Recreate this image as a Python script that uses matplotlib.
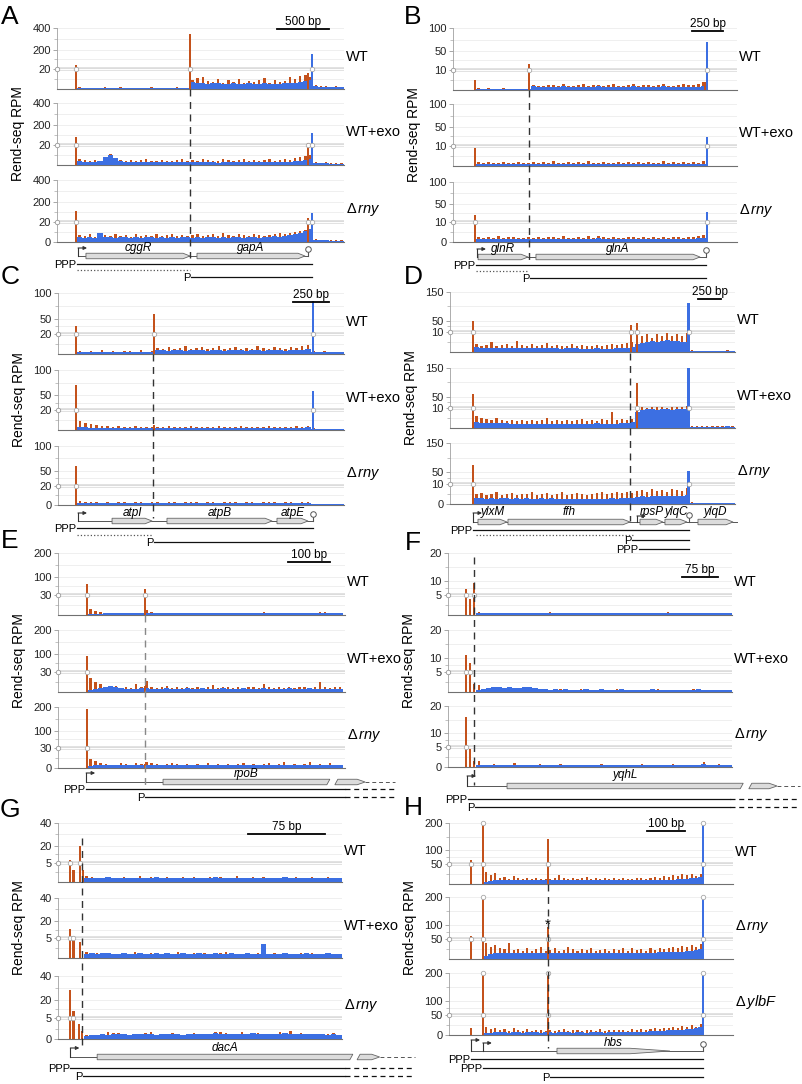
import numpy as np
import matplotlib.pyplot as plt
from matplotlib.patches import Polygon

plt.rcParams['font.family'] = ['Liberation Sans', 'DejaVu Sans']
plt.rcParams['mathtext.fontset'] = 'custom'
plt.rcParams['mathtext.rm'] = 'Liberation Sans'
plt.rcParams['mathtext.it'] = 'Liberation Sans:italic'

ORANGE = '#C4521C'
BLUE = '#3C6FE2'
W, H = 802, 1084

STRAINS = ['WT', 'WT+exo', r'$\Delta\,\mathit{rny}$']
STRAINS_H = ['WT', r'$\Delta\,\mathit{rny}$', r'$\Delta\,\mathit{ylbF}$']

# ---------------- A : cggR / gapA  (x in bp, y in RPM) ----------------
A_COV = (192, 2755)
A_WT_BLUE = [1,1,1,1,1,1,1,1,1,1,1,1,1,1,1,1,1,1,1,1,1,1,
             7,6,6,5,6,6,5,5,6,5,5,6,5,5,6,5,5,5,6,6,6,7,8,9,
             3,2,2,2,2,2]
A_WT_ORANGE = [2,1,1,1,1,2,1,1,2,1,1,1,1,1,2,1,1,1,1,2,1,1,
               9,11,12,8,7,10,6,9,7,10,6,8,7,9,11,6,9,7,8,12,10,13,14,12,
               4,3,3,2,3,2]
A_WT_PEAKS = [(182, 60, 'o'), (1277, 340, 'o'), (2410, 16, 'o'), (2448, 160, 'b')]
A_EXO_BLUE = [4,3,3,3,4,8,10,7,4,3,3,3,3,3,3,3,3,3,3,3,3,3,
              3,3,3,3,3,2,3,3,3,3,3,3,3,3,3,3,3,3,3,3,4,4,5,6,
              2,2,2,1,1,1]
A_EXO_ORANGE = [6,5,4,5,4,6,11,6,5,4,5,4,5,6,4,4,5,4,4,5,6,4,
                5,4,6,5,4,4,6,5,4,5,6,4,5,4,5,6,4,5,6,5,7,8,9,10,
                3,2,3,2,2,2]
A_EXO_PEAKS = [(182, 90, 'o'), (2410, 35, 'o'), (2448, 130, 'b')]
A_RNY_BLUE = [5,4,5,4,9,5,5,4,5,5,4,5,4,5,5,4,5,4,5,4,5,5,
              4,5,4,5,5,4,5,4,5,5,4,5,5,4,5,5,6,5,6,7,8,9,11,13,
              2,2,2,1,1,1]
A_RNY_ORANGE = [7,6,8,5,6,7,6,8,6,7,5,8,6,7,6,8,6,7,8,6,7,6,
                7,8,6,7,8,6,9,7,6,8,7,6,8,7,6,7,8,9,8,9,10,11,12,13,
                3,2,2,2,2,2]
A_RNY_PEAKS = [(182, 120, 'o'), (2410, 50, 'o'), (2448, 97, 'b')]
A_GENES = [('cggR', 278, 1277), ('gapA', 1344, 2381)]
A_PROMOTERS = [202]
A_TERMINATORS = [2410]
A_TRANSCRIPTS = [('PPP', 192, 2448, None, '-'), ('', 192, 1277, None, ':'), ('P', 1290, 2448, None, '-')]

# ---------------- B : glnR / glnA ----------------
B_COV = (186, 2049)
B_WT_BLUE = [0.6,0.5,0.5,0.6,0.5,0.5,0.6,0.5,0.5,0.5,0.6,
             1.8,1.6,1.5,1.7,1.6,1.5,1.8,1.6,1.5,1.6,1.7,1.5,1.6,1.8,1.6,1.5,1.7,1.6,1.5,1.6,
             1.8,1.5,1.6,1.7,1.5,1.6,1.8,1.6,1.5,1.6,1.7,1.5,1.6,1.7,1.9]
B_WT_ORANGE = [1,0.5,0.8,0.6,0.5,1.2,0.5,0.6,0.5,0.7,0.6,
               2.5,2,1.8,2.6,2.2,1.9,2.8,2,1.8,2.4,2.9,1.9,2.2,2.6,2,2.3,2.7,2,1.9,2.5,
               3,2,2.2,2.6,1.9,2.4,2.8,2.1,2,2.3,2.9,2.2,2.4,3,4]
B_WT_PEAKS = [(178, 4.7, 'o'), (616, 22, 'o'), (2040, 4, 'o'), (2057, 69, 'b')]
B_EXO_BLUE = [1.0,0.9,1.1,1.0,0.9,1.0,1.1,1.0,0.9,1.0,1.1,1.0,0.9,1.0,1.1,1.0,1.0,0.9,1.1,1.0,
              1.0,1.1,0.9,1.0,1.0,1.1,1.0,0.9,1.0,1.1,1.0,0.9,1.0,1.1,1.0,1.0,0.9,1.1,1.0,1.0,
              1.1,1.0,0.9,1.0,1.1,1.2]
B_EXO_ORANGE = [1.8,1.5,2,1.6,1.4,1.9,1.5,1.7,2.1,1.5,1.6,2,1.5,1.8,1.6,2.2,1.5,1.7,1.9,1.5,
                1.8,1.6,2.3,1.5,1.7,2,1.6,1.5,1.9,1.7,2.1,1.5,1.8,1.6,2,1.5,1.7,2.2,1.6,1.8,
                1.5,1.9,1.7,2,1.6,2.4]
B_EXO_PEAKS = [(178, 9, 'o'), (2057, 28, 'b')]
B_RNY_BLUE = [1.6,1.4,1.5,1.3,1.5,1.4,1.6,1.5,1.4,1.5,1.6,1.5,1.4,1.5,1.6,1.4,1.5,1.7,1.5,1.4,
              1.5,1.6,1.4,1.5,1.8,1.5,1.4,1.6,1.5,1.4,1.5,1.6,1.5,1.4,1.5,1.6,1.4,1.5,1.5,1.6,
              1.4,1.5,1.6,1.5,1.8,2.2]
B_RNY_ORANGE = [2.6,2.2,2.4,2,2.8,2.1,2.3,2.5,2,2.2,2.4,2.1,2.6,2,2.3,2.5,2.1,2.8,2.2,2,
                2.4,2.2,2.9,2.1,3.2,2.3,2,2.5,2.2,2.1,2.4,2.6,2.1,2.3,2,2.5,2.2,2.4,2.1,2.6,
                2.3,2.1,2.5,2.3,2.8,3.5]
B_RNY_PEAKS = [(178, 25, 'o'), (2057, 33, 'b')]
B_GENES = [('glnR', 203, 608), ('glnA', 672, 2001)]
B_PROMOTERS = [194]
B_TERMINATORS = [2049]
B_TRANSCRIPTS = [('PPP', 186, 2049, None, '-'), ('', 186, 608, None, ':'), ('P', 624, 2049, None, '-')]

# ---------------- C : atpI / atpB / atpE ----------------
C_COV = (131, 1973)
C_WT_BLUE = [2,2,2,2,2,2,2,2,2,2,2,2,2,2,
             4,4,3,4,4,3,4,4,4,3,4,4,3,4,4,4,3,4,4,3,4,4,4,3,4,4,4,5,
             2,1.5,1.5,1.5,1.5,1.5]
C_WT_ORANGE = [3,2,3,2,4,2,3,2,3,3,2,4,2,3,
               6,5,7,5,6,8,5,6,7,5,6,8,5,6,7,5,6,5,8,6,5,7,6,5,7,6,8,9,
               3,2,3,2,2,2]
C_WT_PEAKS = [(124, 36, 'o'), (662, 58, 'o'), (1760, 84, 'b')]
C_EXO_BLUE = [3,3,2,2,2,2,2,2,2,2,2,2,2,2,
              2,2,2,2,2,2,2,2,2,2,2,2,2,2,2,2,2,2,2,2,2,2,2,2,2,2,2,3,
              1,1,1,1,1,1]
C_EXO_ORANGE = [9,7,6,5,4,4,3,4,3,3,4,3,3,3,
                3,3,4,3,3,3,4,3,3,3,3,4,3,3,3,4,3,3,3,3,4,3,3,3,3,4,3,4,
                2,1.5,1.5,1.5,1.5,1.5]
C_EXO_PEAKS = [(124, 70, 'o'), (662, 5, 'o'), (1760, 58, 'b')]
C_RNY_BLUE = [2,2,2,2,2,2,2,2,2,2,2,2,2,2,
              2,2,2,2,2,2,2,2,2,2,2,2,2,2,2,2,2,2,2,2,2,2,2,2,2,2,2,2,
              1,1,1,1,1,1]
C_RNY_ORANGE = [4,3,3,3,2.5,3,2.5,3,3,2.5,3,3,2.5,3,
                3,2.5,3,3,2.5,3,3,3,2.5,3,3,2.5,3,3,3,2.5,3,3,2.5,3,3,3,2.5,3,3,2.5,3,3,
                1.5,1.5,1.5,1.5,1.5,1.5]
C_RNY_PEAKS = [(124, 60, 'o')]
C_GENES = [('atpI', 373, 649), ('atpB', 752, 1477), ('atpE', 1511, 1725)]
C_PROMOTERS = [138]
C_TERMINATORS = [1760]
C_TRANSCRIPTS = [('PPP', 131, 1760, None, '-'), ('', 131, 649, None, ':'), ('P', 662, 1760, None, '-')]

# ---------------- D : ylxM / ffh / rpsP / ylqC / ylqD ----------------
D_COV = (262, 3106)
D_WT_BLUE = [2.5,2,2,2.2,2,1.8,2,2.2,2,1.8,2,2,1.8,2,2.2,2,1.8,1.6,1.8,2,
             1.8,1.6,1.5,1.6,1.8,1.6,1.5,1.6,1.8,2,2.2,2.5,
             4,4.5,5,5.5,5,5.5,6,5.5,5.5,5,5,
             0.5,0.4,0.4,0.5,0.4,0.4,0.4,0.5,0.4]
D_WT_ORANGE = [4,3,3.5,5,3,3.5,4,3,5.5,3.5,3,4,3,3.5,4.5,3,3.5,3,3,4,
               3,3.5,3,3,3.5,3,3.5,4,3.5,4,4.5,5,
               7,8,9,7,9,8,9.5,8,9,8,9.5,
               0.8,0.6,0.7,0.6,0.7,0.6,0.6,0.8,0.6]
D_WT_PEAKS = [(250, 50, 'o'), (1971, 34, 'o'), (2037, 41, 'o'), (2600, 112, 'b')]
D_EXO_BLUE = [3,2.5,2.5,2.5,2.5,2.5,2.5,2.2,2,2,2.2,2,2,2.2,2,2,2,2.2,2,2,
              2.2,2,2,2.2,2.5,2.2,2,2,2.2,2.5,2.5,2.8,
              8,9,9.5,9.5,9,9.5,9.5,9,9.5,9.5,9.8,
              0.7,0.6,0.6,0.5,0.6,0.6,0.7,0.8,0.7]
D_EXO_ORANGE = [6,5,4.5,4,5,4,3.5,4,3.5,4,3.5,4,3.5,4,5,3.5,4,3.5,4,3.5,
                4,4.5,3.5,4,3.5,4.5,4,8,4,4.5,4,4.5,
                13,14,12,15,13,14,12,15,13,14,16,
                1,0.9,0.8,0.8,0.9,0.8,0.9,1,0.9]
D_EXO_PEAKS = [(250, 59, 'o'), (2037, 97, 'o'), (2600, 150, 'b')]
D_RNY_BLUE = [3,2.8,2.6,2.8,2.6,2.8,3,2.6,2.8,2.6,2.8,2.6,2.5,2.8,2.6,2.8,2.5,2.6,2.4,2.6,
              2.4,2.5,2.6,2.4,2.5,2.6,2.5,2.8,2.6,2.8,3,3,
              3.5,3.8,3.6,3.8,4,3.8,4,3.8,4,4.2,4.5,
              0.5,0.5,0.4,0.5,0.4,0.4,0.5,0.4,0.4]
D_RNY_ORANGE = [5,5.5,4.5,5,6,4.5,5,5.5,4.5,5,5,6,4.5,5,5.5,4.5,5,6,4.5,5,
                5.5,5,4.5,5,5.5,6,5,5.5,6,5.5,6,5.5,
                6.5,7,6,7.5,6.5,7,6,7.5,7,6.5,8,
                0.8,0.7,0.6,0.7,0.6,0.6,0.7,0.6,0.6]
D_RNY_PEAKS = [(250, 75, 'o'), (2600, 54, 'b')]
D_GENES = [('ylxM', 305, 621), ('ffh', 632, 1962), ('rpsP', 2071, 2322),
           ('ylqC', 2343, 2583), ('ylqD', 2703, 3085)]
D_PROMOTERS = [251, 2038]
D_TERMINATORS = [2605]
D_TRANSCRIPTS = [('PPP', 251, 2605, None, '-'), ('', 283, 2010, None, ':'),
                 ('P', 1984, 2605, None, '-'), ('PPP', 2060, 2605, None, '-')]

# ---------------- E : rpoB ----------------
E_COV = (71, 678)
E_WT_BLUE = [1,1.5,2,2.5,2.5,2.5,2.5,2.5,2.5,2.5,2.5,3,3.5,3.5,3,3,2.5,2.5,2.5,2.5,
             2.5,2.5,2.5,2.5,2.5,2.5,2.5,2.5,2.5,2.5,2.5,2.5,2.5,2.5,2.5,2.5,2.5,2.5,2.5,2.5,
             2.5,2.5,2.5,2.5,2.5,2.5,2.5,2.5,2.5,2.5]
E_WT_ORANGE = [9,6,4,2,2,2,2.5,2,2,3,2,8,4,2,2,2.5,3,2,2,2.5,
               2,2,2.5,3,2,2,3.5,3,2.5,2,2,2.5,2,3,4,3.5,2,2,2.5,2,
               2,2,2.5,2,2,4,4,3,3.5,2]
E_WT_PEAKS = [(69, 74, 'o'), (207, 52, 'o')]
E_EXO_BLUE = [3,5,6,8,9,8,6,5,5,5,6,6,5,5,5,6,5,5,5,6,
              5,5,6,5,5,5,6,5,5,5,6,5,5,5,6,5,5,5,5,6,
              5,5,5,6,5,5,5,5,5,5]
E_EXO_ORANGE = [20,15,12,8,6,9,6,7,6,12,7,16,8,6,7,9,6,8,6,7,
                6,8,6,7,10,6,7,8,6,7,6,8,7,6,12,7,6,8,6,7,
                6,7,8,6,7,14,7,6,8,7]
E_EXO_PEAKS = [(69, 93, 'o'), (207, 9, 'o')]
E_RNY_BLUE = [3,4,5,5,5,4,4,4,4,4,5,5,5,5,5,4,4,4,4,4,
              4,4,4,4,4,4,4,4,4,4,4,4,4,4,4,4,4,4,4,4,
              4,4,4,4,4,4,4,4,4,4]
E_RNY_ORANGE = [14,10,8,6,5,5,8,6,5,8,6,9,7,6,5,6,7,6,5,6,
                5,6,5,7,5,6,5,6,5,6,7,5,6,5,6,7,5,6,9,5,
                6,5,6,9,5,6,5,7,5,5]
E_RNY_PEAKS = [(69, 192, 'o'), (207, 6, 'o')]
E_GENES = [('rpoB', 250, 647, 666, 731)]
E_PROMOTERS = [67]
E_TERMINATORS = []
E_TRANSCRIPTS = [('PPP', 67, 683, 802, '-'), ('P', 207, 683, 802, '-')]

# ---------------- F : yqhL ----------------
F_COV = (59, 596)
F_WT_BLUE = [0.4,0.5,0.4,0.5,0.5,0.4,0.5,0.6,0.5,0.4,0.5,0.4,0.5,0.5,0.4,0.5,0.4,0.5,0.4,0.5,
             0.4,0.5,0.5,0.4,0.5,0.4,0.5,0.4,0.5,0.5,0.4,0.5,0.4,0.5,0.4,0.5,0.5,0.4,0.5,0.4,
             0.5,0.4,0.5,0.4,0.5,0.5,0.4,0.5,0.4,0.5]
F_WT_ORANGE = [0.8,0.5,0.3,0.6,0.3,0.4,0.3,0.5,0.3,0.4,0.6,0.3,0.4,0.3,0.7,0.3,0.4,0.3,0.5,0.3,
               0.4,0.3,0.6,0.3,0.4,0.3,0.5,0.3,0.4,0.3,0.6,0.3,0.4,0.3,0.5,0.3,0.4,0.7,0.3,0.4,
               0.3,0.5,0.3,0.4,0.3,0.6,0.3,0.4,0.3,0.5]
F_WT_PEAKS = [(38, 7, 'o'), (46, 4, 'o'), (55, 9, 'o')]
F_EXO_BLUE = [0.6,0.8,1.0,1.2,1.1,1.0,1.2,0.9,1.0,1.1,1.2,1.0,0.8,0.7,0.6,0.7,0.6,0.7,0.6,0.5,
              0.6,0.7,0.5,0.6,0.7,0.5,0.6,0.5,0.7,0.6,0.5,0.6,0.5,0.6,0.7,0.5,0.6,0.5,0.6,0.5,
              0.6,0.5,0.6,0.7,0.6,0.5,0.6,0.5,0.6,0.5]
F_EXO_ORANGE = [1.8,0.6,0.4,0.5,0.8,0.5,0.4,0.9,0.5,0.4,0.5,0.8,0.5,0.4,0.6,0.4,0.8,0.4,0.5,0.4,
                0.7,0.4,0.5,0.4,0.6,0.4,0.5,0.8,0.4,0.5,0.4,0.6,0.4,0.5,0.4,0.7,0.4,0.5,0.4,0.6,
                0.4,0.5,0.8,0.4,0.5,0.4,0.6,0.4,0.5,0.4]
F_EXO_PEAKS = [(38, 11, 'o'), (46, 8, 'o'), (55, 2, 'o')]
F_RNY_BLUE = [0.4,0.5,0.6,0.6,0.5,0.6,0.5,0.5,0.6,0.5,0.6,0.5,0.5,0.6,0.5,0.6,0.5,0.5,0.6,0.5,
              0.5,0.6,0.5,0.5,0.6,0.5,0.5,0.6,0.5,0.5,0.6,0.5,0.5,0.6,0.5,0.5,0.6,0.5,0.5,0.6,
              0.5,0.5,0.6,0.5,0.7,0.6,0.5,0.6,0.5,0.5]
F_RNY_ORANGE = [1.5,0.6,0.4,0.8,0.4,0.5,0.4,0.9,0.4,0.6,0.4,0.5,0.7,0.4,0.5,0.4,0.8,0.4,0.5,0.4,
                0.6,0.4,0.5,0.4,0.7,0.4,0.5,0.4,0.6,0.4,0.5,0.4,0.7,0.4,0.5,0.4,0.6,0.4,0.8,0.4,
                0.5,0.4,0.6,0.4,1.2,0.4,0.5,0.7,0.4,0.5]
F_RNY_PEAKS = [(38, 16, 'o'), (46, 4.5, 'o'), (55, 1.5, 'o')]
F_GENES = [('yqhL', 124, 620, 638, 691)]
F_PROMOTERS = [40]
F_TERMINATORS = []
F_TRANSCRIPTS = [('PPP', 42, 592, 739, '-'), ('P', 57, 592, 739, '-')]

# ---------------- G : dacA ----------------
G_COV = (25, 275)
G_WT_BLUE = [1.0,1.1,0.9,1.0,1.2,1.0,0.9,1.1,1.0,1.0,1.1,0.9,1.0,1.2,1.0,1.1,0.9,1.0,1.0,1.1,
             1.0,0.9,1.1,1.0,1.2,1.0,1.1,0.9,1.0,1.0,1.1,1.0,0.9,1.0,1.1,1.0,1.0,1.2,1.0,0.9,
             1.0,1.1,1.0,0.9,1.0,1.1,1.0,0.9]
G_WT_ORANGE = [1.5,1.2,0.8,1.0,1.4,1.1,0.8,1.3,1.0,0.9,1.5,0.8,1.2,1.0,0.9,1.4,1.1,0.8,1.2,1.0,
               1.3,0.9,1.1,1.4,1.0,1.2,0.8,1.1,1.5,1.0,0.9,1.2,1.0,1.3,0.8,1.1,1.0,1.4,0.9,1.2,
               1.0,0.8,1.3,1.1,0.9,1.2,1.0,0.8]
G_WT_PEAKS = [(12, 7, 'o'), (15, 3, 'o'), (21, 20, 'o'), (24, 3, 'o')]
G_EXO_BLUE = [1.0,1.2,1.1,1.3,1.2,1.0,1.1,1.2,1.0,1.1,1.2,1.1,1.0,1.2,1.1,1.3,1.0,1.1,1.2,1.0,
              1.1,1.2,1.0,1.1,1.3,1.1,1.0,1.2,1.1,1.0,1.2,1.1,1.0,3.5,1.1,1.0,1.1,1.2,1.1,1.1,
              1.0,1.2,1.1,1.0,1.1,1.2,1.0,1.1]
G_EXO_ORANGE = [1.4,1.0,1.2,0.9,1.3,1.1,0.9,1.2,1.0,1.4,0.9,1.1,1.3,1.0,0.9,1.2,1.1,1.4,1.0,0.9,
                1.2,1.1,1.3,1.0,0.9,1.2,1.4,1.0,1.1,0.9,1.3,1.0,1.2,1.1,0.9,1.3,1.0,1.2,1.1,1.0,
                1.2,0.9,1.3,1.0,1.1,1.2,0.9,1.0]
G_EXO_PEAKS = [(12, 13, 'o'), (15, 6, 'o'), (21, 4, 'o')]
G_RNY_BLUE = [0.8,0.9,1.0,1.1,1.0,1.2,1.3,1.1,1.0,1.2,1.3,1.1,1.2,1.0,1.1,1.3,1.2,1.1,1.0,1.2,
              1.3,1.2,1.1,1.3,1.4,1.2,1.1,1.3,1.2,1.1,1.2,1.4,1.3,1.2,1.1,1.3,1.2,1.4,1.2,1.1,
              1.3,1.2,1.1,1.2,1.1,1.0,1.2,0.9]
G_RNY_ORANGE = [0.9,0.6,0.8,1.0,1.8,1.5,1.4,1.3,0.8,1.0,1.2,1.5,1.6,0.9,1.0,1.2,1.4,1.1,1.0,1.3,
                1.5,1.1,1.0,1.2,1.7,1.6,1.5,1.1,1.0,1.8,1.2,1.5,1.4,1.1,1.0,1.3,1.6,1.5,1.9,1.2,
                1.4,1.1,1.0,1.3,1.2,1.1,1.4,1.0]
G_RNY_PEAKS = [(12, 28, 'o'), (15, 11, 'o'), (20, 3.7, 'o'), (23, 2, 'o')]
G_GENES = [('dacA', 38, 286, 293, 312)]
G_PROMOTERS = [12]
G_TERMINATORS = []
G_TRANSCRIPTS = [('PPP', 12, 278, 346, '-'), ('P', 24, 278, 346, '-')]

# ---------------- H : hbs ----------------
H_COV = (92, 668)
H_WT_BLUE = [5,8,9,10,10,9,10,10,9,10,10,9,10,10,10,10,10,10,9,10,
             10,10,10,10,10,10,10,9,10,10,10,10,10,10,9,10,10,10,10,10,
             11,11,12,12,13,14,15,18]
H_WT_ORANGE = [30,22,28,15,18,12,20,14,12,15,12,14,13,12,12,15,22,14,13,16,
               12,14,18,13,15,12,16,13,14,12,15,13,12,14,16,12,14,18,15,20,
               18,22,20,24,22,26,20,24]
H_WT_PEAKS = [(58, 63, 'o'), (89, 300, 'o'), (260, 140, 'o'), (668, 300, 'b')]
H_RNY_BLUE = [8,12,14,14,15,15,14,15,15,14,15,15,14,15,14,15,15,14,15,15,
              14,15,15,14,15,15,14,15,15,14,15,15,14,15,15,14,15,15,16,16,
              17,17,18,18,19,20,22,25]
H_RNY_ORANGE = [40,30,35,28,25,38,22,25,20,28,20,24,30,20,22,26,20,22,30,24,
                20,24,22,26,20,22,25,20,24,22,26,20,28,22,24,20,26,22,28,24,
                26,30,28,32,30,34,30,36]
H_RNY_PEAKS = [(58, 60, 'o'), (89, 300, 'o'), (260, 90, 'o'), (668, 300, 'b')]
H_YLBF_BLUE = [4,6,7,7,7,6,7,7,6,7,7,7,6,7,7,6,7,7,7,6,
               7,7,6,7,7,7,6,7,7,7,7,7,7,8,8,8,9,9,10,10,
               11,12,12,13,14,15,16,20]
H_YLBF_ORANGE = [20,15,18,12,14,10,16,12,10,14,10,12,11,10,13,10,12,14,10,12,
                 11,10,13,12,10,14,10,12,11,13,12,10,14,12,15,12,14,16,14,18,
                 16,20,18,22,20,24,20,26]
H_YLBF_PEAKS = [(58, 17, 'o'), (89, 300, 'o'), (260, 300, 'o'), (668, 300, 'b')]
H_GENES = [('hbs', 284, 581)]
H_PROMOTERS = [58, 89]
H_TERMINATORS = [668]
H_TRANSCRIPTS = [('PPP', 58, 668, None, '-'), ('PPP', 89, 668, None, '-'), ('P', 265, 668, None, '-')]


# ---------------- layout (pixels) ----------------
fig = plt.figure(figsize=(W / 100, H / 100), dpi=100)


def px_rect(x0, y0, x1, y1):
    return [x0 / W, 1 - y1 / H, (x1 - x0) / W, (y1 - y0) / H]


def broken_scale(brk, top, f=0.33):
    def fwd(v):
        v = np.asarray(v, dtype=float)
        return np.where(v <= brk, v / brk * f, f + (v - brk) / (top - brk) * (1 - f))

    def inv(u):
        u = np.asarray(u, dtype=float)
        return np.where(u <= f, u / f * brk, brk + (u - f) / (1 - f) * (top - brk))
    return fwd, inv


def draw_track(rect, xmax, sc, show_zero, cov, blue, orange, peaks, bpp):
    brk, top, major, minor = sc
    ax = fig.add_axes(rect)
    fwd, inv = broken_scale(brk, top)
    ax.set_yscale('function', functions=(fwd, inv))
    ax.set_xlim(0, xmax)
    ax.set_ylim(0, top)
    sb = (cov[1] - cov[0]) / len(blue)
    so = (cov[1] - cov[0]) / len(orange)
    xb = cov[0] + sb * (np.arange(len(blue)) + 0.5)
    xo = cov[0] + so * (np.arange(len(orange)) + 0.5)
    ax.bar(xo, orange, width=so * 0.45, color=ORANGE, lw=0, zorder=2)
    ax.bar(xb, blue, width=sb * 1.02, color=BLUE, lw=0, zorder=3)
    for x, h, c in peaks:
        ax.bar(x, min(h, top), width=2.2 * bpp, color=ORANGE if c == 'o' else BLUE, lw=0, zorder=4)
        if h > brk:
            ax.plot(x, brk, 'o', ms=3.2, mfc='white', mec='#a8a8a8', mew=0.6, zorder=5)
        if h > top:
            ax.plot(x, top, 'o', ms=3.2, mfc='white', mec='#a8a8a8', mew=0.6, zorder=5, clip_on=False)
    # break band: a light double line across the track
    ax.axhline(brk, color='#dcdcdc', lw=2.6, zorder=1.5)
    ax.axhline(brk, color='white', lw=0.7, zorder=1.6)
    ticks = ([0] if show_zero else []) + major
    ax.set_yticks(ticks)
    ax.set_yticklabels([f'{t:g}' for t in ticks])
    ax.set_yticks(minor, minor=True)
    ax.yaxis.set_minor_formatter(plt.NullFormatter())
    ax.tick_params(axis='y', which='major', length=3, width=0.6, color='#999999',
                   labelsize=8, pad=1.5, labelcolor='#222222')
    ax.tick_params(axis='y', which='minor', length=2, width=0.5, color='#aaaaaa')
    ax.set_xticks([])
    ax.grid(axis='y', which='both', color='#ececec', lw=0.6)
    ax.set_axisbelow(True)
    for s in ('top', 'right'):
        ax.spines[s].set_visible(False)
    ax.spines['left'].set_color('#a0a0a0')
    ax.spines['left'].set_linewidth(0.6)
    ax.spines['bottom'].set_color('#707070')
    ax.spines['bottom'].set_linewidth(0.8)
    ax.plot([0], [brk], marker='o', ms=3.2, mfc='white', mec='#999999', mew=0.6,
            transform=ax.get_yaxis_transform(), clip_on=False, zorder=6)
    return ax


def gene_arrow(ov, x0, x1, y, head, h=5.5):
    pts = [(x0, y - h / 2), (x1 - head, y - h / 2), (x1, y), (x1 - head, y + h / 2), (x0, y + h / 2)]
    ov.add_patch(Polygon(pts, closed=True, fc='#dcdcdc', ec='#666666', lw=0.6, zorder=3))


def draw_annotation(ov, p):
    bpp = p['bpp']
    gy, ly = p['gene_y'], p['label_y']
    b0, b1 = p['backbone']
    ov.plot([b0, b1], [gy, gy], color='#555555', lw=0.7, zorder=2)
    for g in p['genes']:
        if len(g) == 3:
            name, x0, x1 = g
            gene_arrow(ov, x0, x1, gy, p.get('head', 7) * bpp)
            mid = (x0 + x1) / 2
        else:
            name, x0, xb, xh, x1 = g
            h = 5.5
            ov.add_patch(Polygon([(x0, gy - h / 2), (xb, gy - h / 2), (xb - 3 * bpp, gy + h / 2),
                                  (x0, gy + h / 2)], closed=True, fc='#dcdcdc', ec='#666666', lw=0.6, zorder=3))
            ov.add_patch(Polygon([(xh, gy - h / 2), (x1 - 8 * bpp, gy - h / 2), (x1, gy),
                                  (x1 - 8 * bpp, gy + h / 2), (xh - 3 * bpp, gy + h / 2)],
                                 closed=True, fc='#dcdcdc', ec='#666666', lw=0.6, zorder=3))
            ov.plot([x1, p['ann_end']], [gy, gy], color='#555555', lw=0.7, ls=(0, (4, 3)))
            mid = (x0 + xb) / 2
        ov.text(mid, ly, name, style='italic', fontsize=8.5, ha='center', va='center')
    for i, x in enumerate(p['promoters']):
        rise = p['rise'][i]
        ov.plot([x, x], [gy, gy - rise], color='#333333', lw=0.8, zorder=4)
        ov.annotate('', xy=(x + 9 * bpp, gy - rise), xytext=(x, gy - rise),
                    arrowprops=dict(arrowstyle='-|>', color='#333333', lw=0.8,
                                    mutation_scale=5, shrinkA=0, shrinkB=0))
    for x in p['terminators']:
        ov.plot([x, x], [gy, gy - 5], color='#555555', lw=0.8, zorder=4)
        ov.plot(x, gy - 7.5, 'o', ms=4, mfc='white', mec='#555555', mew=0.7, zorder=5)
    for (lab, x0, x1, xd, ls), y in zip(p['transcripts'], p['tr_y']):
        col = '#111111' if ls == '-' else '#555555'
        ov.plot([x0, x1], [y, y], color=col, lw=0.9, ls=ls)
        if xd is not None:
            ov.plot([x1, xd], [y, y], color=col, lw=0.9, ls=(0, (4, 3)))
        if lab:
            ov.text(x0 - 0.5 * bpp, y + 1, lab, fontsize=8, ha='right', va='center')


PANELS = [
    dict(key='A', letter=(10, 17), left=57, right=344, bpp=9.6, ov_right=420,
         tracks=[(28, 89), (103, 165), (180, 242)], scale=(20, 400, [20, 200, 400], [10, 110, 300]),
         cov=A_COV, data=[(A_WT_BLUE, A_WT_ORANGE, A_WT_PEAKS), (A_EXO_BLUE, A_EXO_ORANGE, A_EXO_PEAKS),
                          (A_RNY_BLUE, A_RNY_ORANGE, A_RNY_PEAKS)],
         strains=STRAINS, bar=(2611, 500, 29, '500 bp'), dash=(1277, 89, 258, '#333333'),
         gene_y=256, label_y=248, backbone=(202, 2410), genes=A_GENES, promoters=A_PROMOTERS, rise=[8],
         terminators=A_TERMINATORS, transcripts=A_TRANSCRIPTS, tr_y=[264, 270, 277]),
    dict(key='B', letter=(413, 17), left=453, right=737, bpp=8.1, ov_right=802,
         tracks=[(28, 90), (104, 166), (182, 242)], scale=(10, 100, [10, 50, 100], [5, 30, 75]),
         cov=B_COV, data=[(B_WT_BLUE, B_WT_ORANGE, B_WT_PEAKS), (B_EXO_BLUE, B_EXO_ORANGE, B_EXO_PEAKS),
                          (B_RNY_BLUE, B_RNY_ORANGE, B_RNY_PEAKS)],
         strains=STRAINS, bar=(2187, 250, 31, '250 bp'), dash=(616, 90, 262, '#333333'),
         gene_y=257, label_y=249, backbone=(194, 2049), genes=B_GENES, promoters=B_PROMOTERS, rise=[8],
         terminators=B_TERMINATORS, transcripts=B_TRANSCRIPTS, tr_y=[265, 271, 278]),
    dict(key='C', letter=(10, 277), left=58, right=344, bpp=6.9, ov_right=420,
         tracks=[(293, 354), (370, 430), (446, 505)], scale=(20, 100, [20, 50, 100], [10, 35, 75]),
         cov=C_COV, data=[(C_WT_BLUE, C_WT_ORANGE, C_WT_PEAKS), (C_EXO_BLUE, C_EXO_ORANGE, C_EXO_PEAKS),
                          (C_RNY_BLUE, C_RNY_ORANGE, C_RNY_PEAKS)],
         strains=STRAINS, bar=(1870, 250, 302, '250 bp'), dash=(655, 354, 518, '#333333'),
         gene_y=521, label_y=513, backbone=(138, 1760), genes=C_GENES, promoters=C_PROMOTERS, rise=[8],
         terminators=C_TERMINATORS, transcripts=C_TRANSCRIPTS, tr_y=[528, 535, 542]),
    dict(key='D', letter=(413, 277), left=450, right=735, bpp=10.9, ov_right=802,
         tracks=[(292, 352), (368, 428), (443, 504)], scale=(10, 150, [10, 50, 150], [5, 30, 100]),
         cov=D_COV, data=[(D_WT_BLUE, D_WT_ORANGE, D_WT_PEAKS), (D_EXO_BLUE, D_EXO_ORANGE, D_EXO_PEAKS),
                          (D_RNY_BLUE, D_RNY_ORANGE, D_RNY_PEAKS)],
         strains=STRAINS, bar=(2954, 250, 299, '250 bp'), dash=(1962, 353, 521, '#333333'),
         gene_y=522, label_y=512, backbone=(251, 3130), genes=D_GENES, promoters=D_PROMOTERS, rise=[9, 6],
         terminators=D_TERMINATORS, transcripts=D_TRANSCRIPTS, tr_y=[530, 535, 540, 549]),
    dict(key='E', letter=(10, 541), left=58, right=345, bpp=2.38, ov_right=420,
         tracks=[(553, 615), (630, 692), (707, 768)], scale=(30, 200, [30, 100, 200], [15, 65, 150]),
         cov=E_COV, data=[(E_WT_BLUE, E_WT_ORANGE, E_WT_PEAKS), (E_EXO_BLUE, E_EXO_ORANGE, E_EXO_PEAKS),
                          (E_RNY_BLUE, E_RNY_ORANGE, E_RNY_PEAKS)],
         strains=STRAINS, bar=(647, 100, 562, '100 bp'), dash=(207, 615, 790, '#888888'),
         gene_y=782, label_y=774, backbone=(67, 250), genes=E_GENES, promoters=E_PROMOTERS, rise=[9],
         terminators=E_TERMINATORS, transcripts=E_TRANSCRIPTS, tr_y=[789, 797], ann_end=802),
    dict(key='F', letter=(413, 543), left=448, right=732, bpp=2.1, ov_right=802,
         tracks=[(553, 615), (630, 692), (706, 767)], scale=(5, 20, [5, 10, 20], [2.5, 7.5, 15]),
         cov=F_COV, data=[(F_WT_BLUE, F_WT_ORANGE, F_WT_PEAKS), (F_EXO_BLUE, F_EXO_ORANGE, F_EXO_PEAKS),
                          (F_RNY_BLUE, F_RNY_ORANGE, F_RNY_PEAKS)],
         strains=STRAINS, bar=(567, 75, 577, '75 bp'), dash=(55, 557, 785, '#333333'),
         gene_y=786, label_y=775, backbone=(40, 124), genes=F_GENES, promoters=F_PROMOTERS, rise=[10],
         terminators=F_TERMINATORS, transcripts=F_TRANSCRIPTS, tr_y=[799, 807], ann_end=739),
    dict(key='G', letter=(10, 810), left=58, right=342, bpp=0.97, ov_right=420,
         tracks=[(823, 882), (898, 958), (976, 1039)], scale=(5, 40, [5, 20, 40], [2.5, 12.5, 30]),
         cov=G_COV, data=[(G_WT_BLUE, G_WT_ORANGE, G_WT_PEAKS), (G_EXO_BLUE, G_EXO_ORANGE, G_EXO_PEAKS),
                          (G_RNY_BLUE, G_RNY_ORANGE, G_RNY_PEAKS)],
         strains=STRAINS, bar=(259, 75, 834, '75 bp'), dash=(23, 838, 1050, '#333333'),
         gene_y=1057, label_y=1048, backbone=(12, 38), genes=G_GENES, promoters=G_PROMOTERS, rise=[9],
         terminators=G_TERMINATORS, transcripts=G_TRANSCRIPTS, tr_y=[1068, 1076], ann_end=346),
    dict(key='H', letter=(413, 808), left=449, right=733, bpp=2.63, ov_right=802,
         tracks=[(823, 884), (897, 959), (973, 1035)], scale=(50, 200, [50, 100, 200], [25, 75, 150]),
         cov=H_COV, data=[(H_WT_BLUE, H_WT_ORANGE, H_WT_PEAKS), (H_RNY_BLUE, H_RNY_ORANGE, H_RNY_PEAKS),
                          (H_YLBF_BLUE, H_YLBF_ORANGE, H_YLBF_PEAKS)],
         strains=STRAINS_H, bar=(621, 100, 831, '100 bp'), dash=(260, 884, 1048, '#333333'),
         gene_y=1051, label_y=1043, backbone=(58, 668), genes=H_GENES, promoters=H_PROMOTERS, rise=[11, 8],
         terminators=H_TERMINATORS, transcripts=H_TRANSCRIPTS, tr_y=[1059, 1068, 1077], head=40),
]

for p in PANELS:
    left, right, bpp = p['left'], p['right'], p['bpp']
    xmax = (right - left) * bpp
    axes = []
    for i, ((t, b), (blue, orange, peaks)) in enumerate(zip(p['tracks'], p['data'])):
        ax = draw_track(px_rect(left, t, right, b), xmax, p['scale'], i == 2, p['cov'],
                        blue, orange, peaks, bpp)
        axes.append(ax)
        fig.text((right + 2) / W, 1 - (t + 0.47 * (b - t)) / H, p['strains'][i],
                 fontsize=10.5, ha='left', va='center')
    if p['key'] == 'H':
        axes[1].text(260, 100, '*', ha='center', va='center', fontsize=11, zorder=6)
    # overlay in (bp, pixel) coordinates for annotation, dashed guide and scale bar
    ov = fig.add_axes([left / W, 0, (p['ov_right'] - left) / W, 1])
    ov.set_xlim(0, (p['ov_right'] - left) * bpp)
    ov.set_ylim(H, 0)
    ov.axis('off')
    xd, y0, y1, dcol = p['dash']
    ov.plot([xd, xd], [y0, y1], color=dcol, lw=1.0, ls=(0, (5, 4)), zorder=7)
    xe, length, yb, txt = p['bar']
    ov.plot([xe - length, xe], [yb, yb], color='black', lw=1.3)
    ov.text(xe - length / 2, yb - 7, txt, fontsize=8.5, ha='center', va='center')
    draw_annotation(ov, p)
    t_mid = p['tracks'][1]
    fig.text((left - 39) / W, 1 - ((t_mid[0] + t_mid[1]) / 2) / H, 'Rend-seq RPM',
             rotation=90, fontsize=10, ha='center', va='center')
    fig.text(p['letter'][0] / W, 1 - p['letter'][1] / H, p['key'], fontsize=19,
             ha='center', va='center')

fig.savefig('out.png', dpi=100)
